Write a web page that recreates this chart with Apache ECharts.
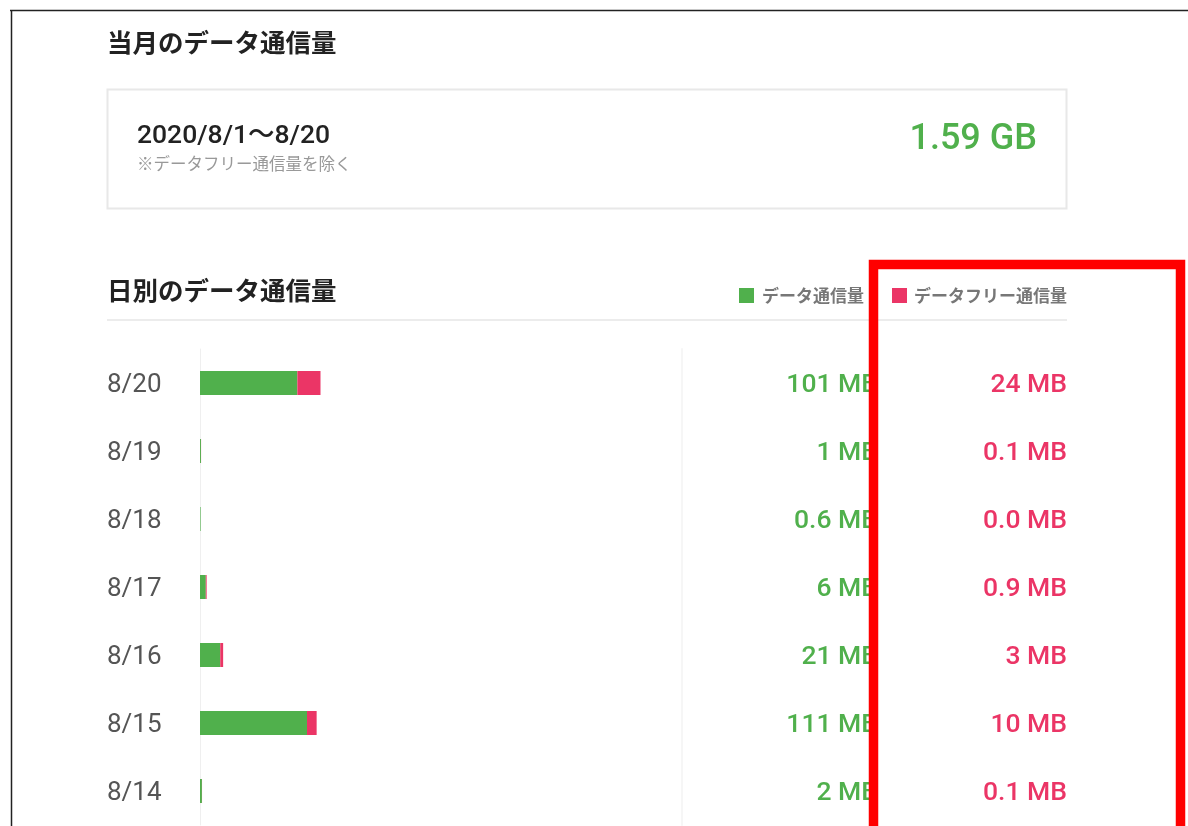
<!DOCTYPE html>
<html>
<head>
<meta charset="utf-8">
<script src="https://cdn.jsdelivr.net/npm/echarts@6/dist/echarts.min.js"></script>
<style>
  html, body { margin: 0; padding: 0; background: #fff; }
  #chart { width: 1188px; height: 826px; }
</style>
</head>
<body>
<div id="chart"></div>
<script>
// 日別の値 (MB)
const days = ['8/20', '8/19', '8/18', '8/17', '8/16', '8/15', '8/14']
const dataUsage = [101, 1, 0.6, 6, 21, 111, 2]
const freeUsage = [24, 0.1, 0.0, 0.9, 3, 10, 0.1]
const legendNames = ['データ通信量', 'データフリー通信量']
const monthRange = '2020/8/1〜8/20'
const monthTotal = '1.59 GB'

const GREEN = '#50b04c'
const PINK = '#eb3566'
const JP = '"Noto Sans CJK JP", sans-serif'
const NUM = 'Roboto, "Noto Sans CJK JP", sans-serif'

// 1未満は小数1桁、それ以外は整数
const fmt = v => (v < 1 ? v.toFixed(1) : Math.round(v)) + ' MB'

const chart = echarts.init(document.getElementById('chart'), null, { renderer: 'canvas' })

chart.setOption({
  animation: false,
  backgroundColor: '#fff',
  grid: { left: 200, top: 349, width: 482, height: 476, containLabel: false },
  xAxis: { type: 'value', min: 0, max: 500, show: false },
  yAxis: [
    {
      type: 'category', inverse: true, data: days,
      axisLine: { lineStyle: { color: '#efefef', width: 1 } },
      axisTick: { show: false },
      axisLabel: { align: 'left', margin: 93, lineHeight: 30, verticalAlign: 'top', padding: [-13, 0, 0, 0], color: '#555', fontSize: 26, fontFamily: NUM }
    },
    {
      type: 'category', inverse: true, position: 'right', data: dataUsage.map(fmt),
      axisLine: { show: true, lineStyle: { color: '#f6f6f6', width: 2 } },
      axisTick: { show: false },
      axisLabel: { align: 'right', margin: 196, lineHeight: 30, verticalAlign: 'top', padding: [-13, 0, 0, 0], color: GREEN, fontSize: 26.5, fontWeight: 500, fontFamily: NUM }
    },
    {
      type: 'category', inverse: true, position: 'right', data: freeUsage.map(fmt),
      axisLine: { show: false },
      axisTick: { show: false },
      axisLabel: { align: 'right', margin: 385, lineHeight: 30, verticalAlign: 'top', padding: [-13, 0, 0, 0], color: PINK, fontSize: 26.5, fontWeight: 500, fontFamily: NUM }
    }
  ],
  series: [
    { name: legendNames[0], type: 'bar', stack: 'day', barWidth: 24, data: dataUsage, itemStyle: { color: GREEN } },
    { name: legendNames[1], type: 'bar', stack: 'day', barWidth: 24, data: freeUsage, itemStyle: { color: PINK } }
  ],
  graphic: [
    // 外枠（スクリーンショットの枠線）
    { type: 'line', shape: { x1: 10, y1: 10.5, x2: 1188, y2: 10.5 }, style: { stroke: '#222', lineWidth: 1.5 } },
    { type: 'line', shape: { x1: 11.5, y1: 10, x2: 11.5, y2: 826 }, style: { stroke: '#222', lineWidth: 1.5 } },

    { type: 'text', x: 107, y: 42, style: { text: '当月のデータ通信量', font: 'bold 25.5px ' + JP, fill: '#222', verticalAlign: 'middle' } },
    { type: 'rect', shape: { x: 107.5, y: 89.5, width: 959, height: 119 }, style: { fill: 'none', stroke: '#e8e8e8', lineWidth: 2 } },
    { type: 'text', x: 137, y: 136, style: { text: monthRange, font: '500 26.5px ' + NUM, fill: '#222', verticalAlign: 'middle' } },
    { type: 'text', x: 137, y: 164, style: { text: '※データフリー通信量を除く', font: '16.5px ' + JP, fill: '#999', verticalAlign: 'middle' } },
    { type: 'text', x: 1037, y: 140, style: { text: monthTotal, font: '500 36px ' + NUM, fill: GREEN, align: 'right', verticalAlign: 'middle' } },

    { type: 'text', x: 107, y: 290, style: { text: '日別のデータ通信量', font: 'bold 25.5px ' + JP, fill: '#222', verticalAlign: 'middle' } },
    { type: 'rect', shape: { x: 739, y: 288, width: 15, height: 15 }, style: { fill: GREEN } },
    { type: 'text', x: 762, y: 296, style: { text: legendNames[0], font: 'bold 17px ' + JP, fill: '#777', verticalAlign: 'middle' } },
    { type: 'rect', shape: { x: 892, y: 288, width: 15, height: 15 }, style: { fill: PINK } },
    { type: 'text', x: 914, y: 296, style: { text: legendNames[1], font: 'bold 17px ' + JP, fill: '#777', verticalAlign: 'middle' } },
    { type: 'line', shape: { x1: 107, y1: 320, x2: 1067, y2: 320 }, style: { stroke: '#ececec', lineWidth: 2 } },

    // 赤い強調枠
    { type: 'rect', z: 100, shape: { x: 873.5, y: 264.5, width: 307, height: 620 }, style: { fill: 'none', stroke: '#ff0000', lineWidth: 9.5 } }
  ]
})
</script>
</body>
</html>
